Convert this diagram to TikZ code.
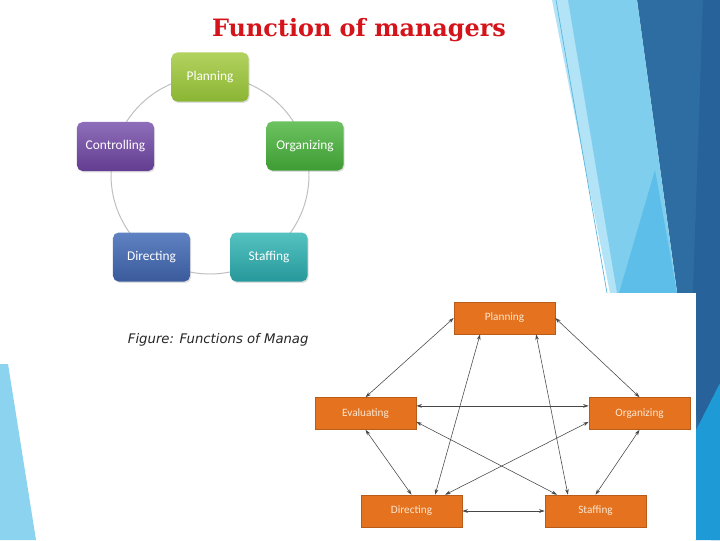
\documentclass[tikz,border=0pt]{standalone}
\usepackage{fontspec}
\setmainfont{Carlito}
\newfontfamily\titlefont{DejaVu Serif}
\newfontfamily\capfont{DejaVu Sans}
\usetikzlibrary{arrows.meta,shadows}

\definecolor{bgdark}{HTML}{2E6DA2}
\definecolor{bgdarker}{HTML}{27629A}
\definecolor{bglight}{HTML}{7FCEEE}
\definecolor{bgpale}{HTML}{B2E3F6}
\definecolor{bgmid}{HTML}{5DBFE9}
\definecolor{bgbright}{HTML}{1E9AD6}
\definecolor{bgline}{HTML}{5AB6DE}
\definecolor{titlered}{HTML}{D4141A}
\definecolor{funcorange}{HTML}{E4721F}
\definecolor{funcedge}{HTML}{B85C1C}
\definecolor{functext}{HTML}{FBE7D2}
\definecolor{plantop}{HTML}{B2D25E}
\definecolor{planbot}{HTML}{8BB534}
\definecolor{orgtop}{HTML}{6CC260}
\definecolor{orgbot}{HTML}{3E9C34}
\definecolor{ctrltop}{HTML}{8E6EBA}
\definecolor{ctrlbot}{HTML}{633D90}
\definecolor{dirtop}{HTML}{5F82C2}
\definecolor{dirbot}{HTML}{3A5A9C}
\definecolor{stafftop}{HTML}{54C2C0}
\definecolor{staffbot}{HTML}{27989B}

\begin{document}
\begin{tikzpicture}[x=0.025cm,y=-0.025cm,every node/.style={font=\small},
  cyclebox/.style={rounded corners=4pt,minimum width=1.925cm,minimum height=1.225cm,inner sep=1pt,
    text=white,font=\fontsize{9.5}{11}\selectfont,
    drop shadow={opacity=0.25,shadow xshift=0.8pt,shadow yshift=-1pt}},
  funcbox/.style={fill=funcorange,draw=funcedge,line width=0.4pt,minimum width=2.525cm,
    minimum height=0.8cm,inner sep=1pt,text=functext,font=\fontsize{8}{9}\selectfont},
  link/.style={{Stealth[length=4pt,width=2.6pt]}-{Stealth[length=4pt,width=2.6pt]},
    draw=black!72,line width=0.4pt}]
\useasboundingbox (0,0) rectangle (720,540);
\fill[white] (0,0) rectangle (720,540);

% slide background
\fill[bgdark] (637,0)--(720,0)--(720,540)--(711,540)--cycle;
\fill[bgdarker] (703,0)--(720,0)--(720,540)--(690,380)--cycle;
\fill[bgpale] (552,0)--(570,0)--(622,293)--(610,293)--cycle;
\fill[bglight] (568,0)--(637,0)--(677,293)--(617,293)--cycle;
\fill[bgmid] (655,170)--(677,293)--(619,293)--cycle;
\fill[bgbright] (695,432)--(720,383)--(720,540)--(695,540)--cycle;
\draw[bgline,line width=0.5pt] (556,0)--(607,293);
\fill[bglight!90!white] (0,364)--(8,364)--(36,540)--(0,540)--cycle;

\node[text=titlered,font=\titlefont\bfseries\fontsize{17}{20}\selectfont] (title) at (359,30) {Function of managers};

% cycle picture
\draw[black!25,line width=0.7pt] (210,175) circle (99);
\node[cyclebox,top color=plantop,bottom color=planbot] (cpl) at (210,77) {Planning};
\node[cyclebox,top color=orgtop,bottom color=orgbot] (cor) at (305,146) {Organizing};
\node[cyclebox,top color=ctrltop,bottom color=ctrlbot] (cco) at (115.5,146.5) {Controlling};
\node[cyclebox,top color=dirtop,bottom color=dirbot] (cdi) at (151.5,257) {Directing};
\node[cyclebox,top color=stafftop,bottom color=staffbot] (cst) at (269,257) {Staffing};

\node[anchor=west,text=black!85,font=\capfont\itshape\fontsize{9.4}{11}\selectfont] (cap) at (123,340) {Figure: Functions of Manag};

% second picture
\fill[white] (309,293) rectangle (696,540);
\node[funcbox] (rpl) at (504.5,318) {Planning};
\node[funcbox] (rev) at (365.5,413.5) {Evaluating};
\node[funcbox] (ror) at (639.5,413.5) {Organizing};
\node[funcbox] (rdi) at (411.5,511) {Directing};
\node[funcbox] (rst) at (595.5,511) {Staffing};

\draw[link] (rpl.west)--(rev.north);
\draw[link] (rpl.east)--(ror.north);
\draw[link] ([xshift=-0.61cm]rpl.south)--([xshift=0.59cm]rdi.north);
\draw[link] ([xshift=0.79cm]rpl.south)--([xshift=-0.69cm]rst.north);
\draw[link] ([yshift=0.19cm]rev.east)--([yshift=0.19cm]ror.west);
\draw[link] ([yshift=-0.21cm]rev.east)--([xshift=-0.96cm]rst.north);
\draw[link] ([yshift=-0.21cm]ror.west)--([xshift=0.84cm]rdi.north);
\draw[link] (rev.south)--(rdi.north);
\draw[link] (ror.south)--(rst.north);
\draw[link] (rdi.east)--(rst.west);
\end{tikzpicture}
\end{document}
